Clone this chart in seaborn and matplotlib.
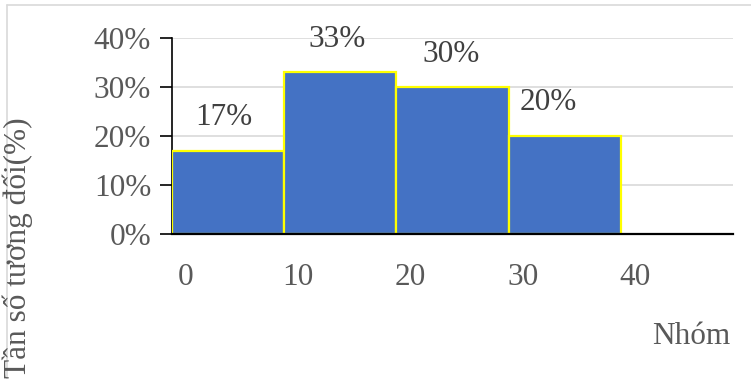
import numpy as np
import pandas as pd
import matplotlib
matplotlib.use("Agg")
import matplotlib.pyplot as plt
import matplotlib.transforms as mtransforms
from matplotlib.ticker import PercentFormatter
import seaborn as sns

# data
bin_edges = [0, 10, 20, 30, 40]
bin_mids = [5, 15, 25, 35]
rel_freq = [0.17, 0.33, 0.30, 0.20]
bar_labels = ["17%", "33%", "30%", "20%"]
y_label = "Tần số tương đối(%)"
x_label = "Nhóm"

sns.set_theme(style="white")
plt.rcParams['font.family'] = ['Liberation Serif', 'DejaVu Serif']

df = pd.DataFrame({'mid': bin_mids, 'freq': rel_freq})

fig = plt.figure(figsize=(7.51, 3.79), dpi=100)
ax = fig.add_axes([172 / 751, 145 / 379, 561 / 751, 196 / 379])

sns.barplot(data=df, x='mid', y='freq', native_scale=True, width=1,
            color='#4472C4', saturation=1, edgecolor='#FFFF00',
            linewidth=1.6, ax=ax, zorder=3)

ax.set_xlim(0, 50)
ax.set_ylim(0, 0.4)
ax.set_yticks(np.arange(0, 0.41, 0.1))
ax.yaxis.set_major_formatter(PercentFormatter(1.0, decimals=0))
ax.grid(axis='y', color='#D9D9D9', linewidth=1.2, zorder=0)
ax.set_axisbelow(True)

for s in ['top', 'right']:
    ax.spines[s].set_visible(False)
ax.spines['left'].set_color('black')
ax.spines['left'].set_linewidth(1.2)
ax.spines['bottom'].set_color('black')
ax.spines['bottom'].set_linewidth(1.6)
ax.spines['bottom'].set_zorder(5)

ax.tick_params(axis='y', length=9, width=1.2, color='black', direction='out',
               labelsize=22.5, labelcolor='#595959', pad=6, left=True)
ax.set_xticks(bin_edges)
ax.set_xticklabels([str(e) for e in bin_edges])
ax.tick_params(axis='x', length=0, labelsize=22.5, labelcolor='#595959', pad=21)
shift = mtransforms.ScaledTranslation(14 / 100, 0, fig.dpi_scale_trans)
for lab in ax.get_xticklabels():
    lab.set_transform(lab.get_transform() + shift)

ax.set_xlabel('')
ax.set_ylabel('')

label_dx = [-4, -3, -1, -16]
for mid, v, txt, dx in zip(bin_mids, rel_freq, bar_labels, label_dx):
    ax.annotate(txt, (mid, v), xytext=(dx, 33), textcoords='offset pixels',
                ha='center', va='center', fontsize=22.5, color='#404040')

fig.text(18 / 751, 1 - 248 / 379, y_label, rotation=90, ha='center',
         va='center', fontsize=22.5, color='#595959')
fig.text(691 / 751, 1 - 337 / 379, x_label, ha='center', va='center',
         fontsize=22.5, color='#595959')

# outer chart frame
fig.add_artist(plt.Line2D([7 / 751, 7 / 751], [0, 1 - 5 / 379],
                          transform=fig.transFigure, color='#D9D9D9', lw=1.2))
fig.add_artist(plt.Line2D([7 / 751, 1], [1 - 5 / 379, 1 - 5 / 379],
                          transform=fig.transFigure, color='#D9D9D9', lw=1.2))

fig.savefig('out.png', dpi=100)
